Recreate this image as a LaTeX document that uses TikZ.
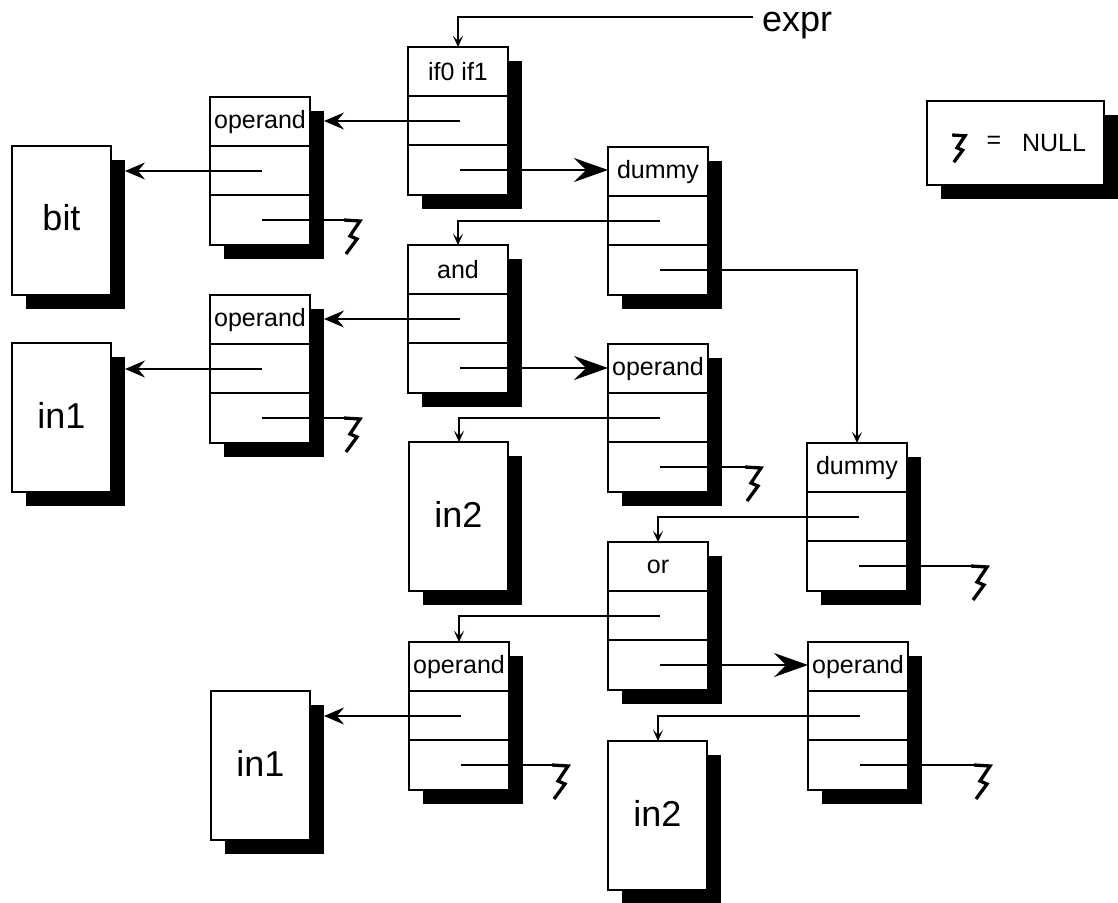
\documentclass[tikz,border=0pt]{standalone}
\usepackage{fontspec}
\setmainfont{Liberation Sans}
\usetikzlibrary{arrows.meta}
\tikzset{
  ln/.style={line width=1.2pt},
  headtext/.style={font=\fontsize{25}{29}\selectfont, inner sep=0pt},
  bigtext/.style={font=\fontsize{36}{41}\selectfont, inner sep=0pt},
  boxframe/.style={draw, line width=1.1pt, fill=white, anchor=north west, inner sep=0pt, outer sep=0pt},
  bigarrow/.style={ln, -{Stealth[length=34pt,width=24pt,inset=12pt]}},
  leftarrow/.style={ln, -{Stealth[length=20pt,width=17pt,inset=7pt]}},
  downarrow/.style={ln, -{Stealth[length=11pt,width=10pt,inset=5pt]}},
  record/.pic={
    \fill[black] (14,14) rectangle (114,162);
    \node[boxframe, minimum width=100pt, minimum height=148pt] (-box) at (0,0) {};
    \draw[ln] (0,49) -- (100,49) (0,98) -- (100,98);
    \node[headtext] (-lab) at (50,25) {#1};
    \coordinate (-f1) at (52,74);
    \coordinate (-f2) at (52,123);
    \coordinate (-top) at (50,0);
    \coordinate (-in) at (114,25);
  },
  datbox/.pic={
    \fill[black] (14,14) rectangle (113,163);
    \node[boxframe, minimum width=99pt, minimum height=149pt] (-box) at (0,0) {};
    \node[bigtext] (-lab) at (49.5,72) {#1};
    \coordinate (-top) at (50,0);
    \coordinate (-in) at (113,25);
  },
  nullsym/.pic={
    \draw[line width=3.3pt, line join=miter, miter limit=6] (-1,0) -- (15,1) -- (5,16) -- (12,19) -- (1,34);
  },
}
\begin{document}
\begin{tikzpicture}[x=1pt, y=-1pt]
\useasboundingbox (0,0) rectangle (1118,902);
\fill[white] (0,0) rectangle (1118,902);

% records
\pic (r1) at (408,47) {record=if0 if1};
\pic (r2) at (210,97) {record=operand};
\pic (r3) at (608,147) {record=dummy};
\pic (r4) at (408,245) {record=and};
\pic (r5) at (210,295) {record=operand};
\pic (r6) at (608,344) {record=operand};
\pic (r7) at (807,443) {record=dummy};
\pic (r8) at (608,542) {record=or};
\pic (r9) at (808,642) {record=operand};
\pic (r10) at (409,642) {record=operand};

% data boxes
\pic (bit) at (12,146) {datbox=bit};
\pic (in1a) at (12,343) {datbox=in1};
\pic (in2a) at (409,442) {datbox=in2};
\pic (in1b) at (211,691) {datbox=in1};
\pic (in2b) at (608,741) {datbox=in2};

% legend
\fill[black] (941,115) rectangle (1118,199);
\node[boxframe, minimum width=177pt, minimum height=84pt] (legend) at (927,101) {};
\pic[scale=0.8] at (953,135) {nullsym};
\node[headtext] (eq) at (994,142) {=};
\node[headtext] (nulltxt) at (1054,143) {NULL};

% expr
\node[bigtext, anchor=base west] (expr) at (762,31) {expr};
\coordinate (exprin) at (753,17);
\draw[downarrow] (exprin) -| (r1-top);

% null ends
\coordinate (n2) at (345,220);
\coordinate (n5) at (345,418);
\coordinate (n6) at (746,467);
\coordinate (n7) at (972,566);
\coordinate (n9) at (975,765);
\coordinate (n10) at (553,765);

% connectors
\draw[leftarrow] (r1-f1) -- (r1-f1 -| r2-in);
\draw[bigarrow] (r1-f2) -- (r1-f2 -| r3-box.west);
\draw[leftarrow] (r2-f1) -- (r2-f1 -| bit-in);
\draw[ln] (r2-f2) -- (n2); \pic at (n2) {nullsym};
\draw[downarrow] (r3-f1) -| (r4-top);
\draw[downarrow] (r3-f2) -| (r7-top);
\draw[leftarrow] (r4-f1) -- (r4-f1 -| r5-in);
\draw[bigarrow] (r4-f2) -- (r4-f2 -| r6-box.west);
\draw[leftarrow] (r5-f1) -- (r5-f1 -| in1a-in);
\draw[ln] (r5-f2) -- (n5); \pic at (n5) {nullsym};
\draw[downarrow] (r6-f1) -| (in2a-top);
\draw[ln] (r6-f2) -- (n6); \pic at (n6) {nullsym};
\draw[downarrow] (r7-f1) -| (r8-top);
\draw[ln] (r7-f2) -- (n7); \pic at (n7) {nullsym};
\draw[downarrow] (r8-f1) -| (r10-top);
\draw[bigarrow] (r8-f2) -- (r8-f2 -| r9-box.west);
\draw[downarrow] (r9-f1) -| (in2b-top);
\draw[ln] (r9-f2) -- (n9); \pic at (n9) {nullsym};
\draw[leftarrow] (r10-f1) -- (r10-f1 -| in1b-in);
\draw[ln] (r10-f2) -- (n10); \pic at (n10) {nullsym};
\end{tikzpicture}
\end{document}
